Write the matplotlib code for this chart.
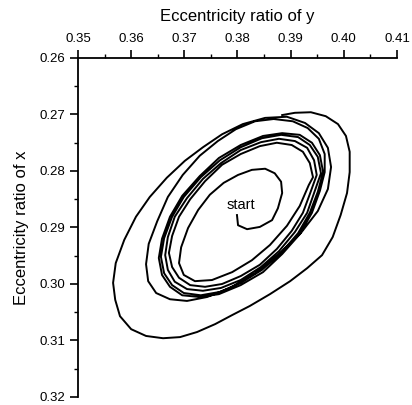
import numpy as np
import matplotlib
matplotlib.use('Agg')
import matplotlib.pyplot as plt
from matplotlib.ticker import MultipleLocator, FormatStrFormatter

plt.rcParams['font.family'] = ['Liberation Sans', 'DejaVu Sans']

# orbit read off the figure : x = eccentricity ratio of y, y = eccentricity ratio of x
# hook from the start point
start_x = [0.3799, 0.3801, 0.3818, 0.3842, 0.3865, 0.3876, 0.3884, 0.3882, 0.3870, 0.3852,
           0.3827, 0.3801, 0.3774, 0.3748, 0.3726, 0.3707, 0.3694, 0.3690, 0.3699, 0.3720,
           0.3752, 0.3790, 0.3827, 0.3861, 0.3893, 0.3917, 0.3934]
start_y = [0.2878, 0.2896, 0.2903, 0.2899, 0.2887, 0.2866, 0.2839, 0.2819, 0.2804, 0.2796,
           0.2798, 0.2807, 0.2821, 0.2842, 0.2869, 0.2901, 0.2935, 0.2963, 0.2984, 0.2995,
           0.2993, 0.2979, 0.2958, 0.2931, 0.2897, 0.2862, 0.2825]

# limit cycle band, four turns
loop1_x = [0.3942, 0.3936, 0.3923, 0.3902, 0.3874, 0.3842, 0.3806, 0.3771, 0.3739, 0.3711,
           0.3690, 0.3677, 0.3671, 0.3677, 0.3690, 0.3711, 0.3739, 0.3771, 0.3806, 0.3842,
           0.3874, 0.3902, 0.3923, 0.3936]
loop1_y = [0.2811, 0.2786, 0.2766, 0.2754, 0.2750, 0.2756, 0.2770, 0.2789, 0.2818, 0.2850,
           0.2881, 0.2915, 0.2945, 0.2970, 0.2989, 0.3002, 0.3005, 0.3000, 0.2986, 0.2966,
           0.2938, 0.2906, 0.2874, 0.2841]
loop2_x = [0.3949, 0.3944, 0.3931, 0.3908, 0.3878, 0.3844, 0.3806, 0.3769, 0.3735, 0.3705,
           0.3682, 0.3669, 0.3664, 0.3669, 0.3682, 0.3705, 0.3735, 0.3769, 0.3806, 0.3844,
           0.3878, 0.3908, 0.3931, 0.3944]
loop2_y = [0.2807, 0.2781, 0.2759, 0.2747, 0.2743, 0.2749, 0.2763, 0.2786, 0.2814, 0.2848,
           0.2881, 0.2917, 0.2949, 0.2975, 0.2996, 0.3009, 0.3012, 0.3007, 0.2993, 0.2970,
           0.2942, 0.2908, 0.2874, 0.2839]
loop3_x = [0.3957, 0.3951, 0.3936, 0.3914, 0.3882, 0.3846, 0.3806, 0.3767, 0.3731, 0.3699,
           0.3677, 0.3662, 0.3656, 0.3662, 0.3677, 0.3699, 0.3731, 0.3767, 0.3806, 0.3846,
           0.3882, 0.3914, 0.3936, 0.3951]
loop3_y = [0.2804, 0.2775, 0.2754, 0.2740, 0.2736, 0.2742, 0.2758, 0.2781, 0.2811, 0.2846,
           0.2881, 0.2919, 0.2952, 0.2981, 0.3002, 0.3016, 0.3020, 0.3014, 0.2998, 0.2975,
           0.2945, 0.2910, 0.2874, 0.2837]
loop4_x = [0.3961, 0.3955, 0.3940, 0.3917, 0.3884, 0.3848, 0.3806, 0.3765, 0.3729, 0.3696,
           0.3673, 0.3658, 0.3652, 0.3658, 0.3673, 0.3696, 0.3729, 0.3765, 0.3806, 0.3848,
           0.3884, 0.3917, 0.3940, 0.3955]
loop4_y = [0.2802, 0.2772, 0.2750, 0.2736, 0.2733, 0.2738, 0.2754, 0.2777, 0.2809, 0.2844,
           0.2881, 0.2920, 0.2954, 0.2984, 0.3005, 0.3020, 0.3023, 0.3018, 0.3002, 0.2979,
           0.2947, 0.2912, 0.2874, 0.2835]

# second (middle) turn
second_x = [0.3964, 0.3964, 0.3953, 0.3932, 0.3904, 0.3868, 0.3833, 0.3797, 0.3763, 0.3729,
            0.3697, 0.3669, 0.3649, 0.3633, 0.3628, 0.3632, 0.3647, 0.3673, 0.3705, 0.3743,
            0.3786, 0.3833, 0.3878, 0.3919, 0.3951, 0.3970, 0.3976, 0.3970, 0.3953, 0.3927,
            0.3893, 0.3852, 0.3810, 0.3771, 0.3735]
second_y = [0.2802, 0.2770, 0.2743, 0.2724, 0.2712, 0.2708, 0.2712, 0.2726, 0.2747, 0.2773,
            0.2807, 0.2846, 0.2889, 0.2929, 0.2965, 0.2995, 0.3016, 0.3027, 0.3030, 0.3023,
            0.3007, 0.2981, 0.2947, 0.2910, 0.2871, 0.2832, 0.2793, 0.2759, 0.2733, 0.2715,
            0.2704, 0.2706, 0.2717, 0.2735, 0.2758]

# outermost turn
outer_x = [0.3701, 0.3667, 0.3635, 0.3609, 0.3587, 0.3571, 0.3566, 0.3570, 0.3579, 0.3600,
           0.3628, 0.3660, 0.3692, 0.3724, 0.3758, 0.3790, 0.3823, 0.3861, 0.3899, 0.3931,
           0.3959, 0.3979, 0.3994, 0.4006, 0.4011, 0.4011, 0.4004, 0.3989, 0.3966, 0.3938,
           0.3908, 0.3884]
outer_y = [0.2782, 0.2812, 0.2846, 0.2881, 0.2922, 0.2963, 0.2998, 0.3028, 0.3057, 0.3080,
           0.3092, 0.3096, 0.3094, 0.3085, 0.3071, 0.3055, 0.3039, 0.3018, 0.2995, 0.2972,
           0.2949, 0.2917, 0.2878, 0.2839, 0.2802, 0.2766, 0.2738, 0.2717, 0.2703, 0.2696,
           0.2697, 0.2701]

x = np.concatenate([start_x, loop1_x, loop2_x, loop3_x, loop4_x, second_x, outer_x])
y = np.concatenate([start_y, loop1_y, loop2_y, loop3_y, loop4_y, second_y, outer_y])

fig = plt.figure(figsize=(4.12, 4.05), dpi=100)
ax = fig.add_axes([0.1893, 0.0198, 0.7743, 0.837])
ax.plot(x, y, 'k-', lw=1.4, solid_joinstyle='round')
ax.text(0.3806, 0.2860, 'start', fontsize=10.5, ha='center', va='center')

ax.set_xlim(0.35, 0.41)
ax.set_ylim(0.32, 0.26)
ax.xaxis.tick_top()
ax.xaxis.set_label_position('top')
ax.xaxis.set_major_locator(MultipleLocator(0.01))
ax.xaxis.set_minor_locator(MultipleLocator(0.005))
ax.yaxis.set_major_locator(MultipleLocator(0.01))
ax.yaxis.set_minor_locator(MultipleLocator(0.005))
ax.xaxis.set_major_formatter(FormatStrFormatter('%.2f'))
ax.yaxis.set_major_formatter(FormatStrFormatter('%.2f'))
ax.tick_params(which='major', length=6, width=1.2, labelsize=9.5, pad=3)
ax.tick_params(which='minor', length=3, width=1.0)
ax.spines['bottom'].set_visible(False)
ax.spines['right'].set_visible(False)
ax.spines['top'].set_linewidth(1.3)
ax.spines['left'].set_linewidth(1.3)
ax.set_xlabel('Eccentricity ratio of y', fontsize=12, labelpad=9)
ax.set_ylabel('Eccentricity ratio of x', fontsize=12, labelpad=8)

fig.savefig('out.png', dpi=100)
